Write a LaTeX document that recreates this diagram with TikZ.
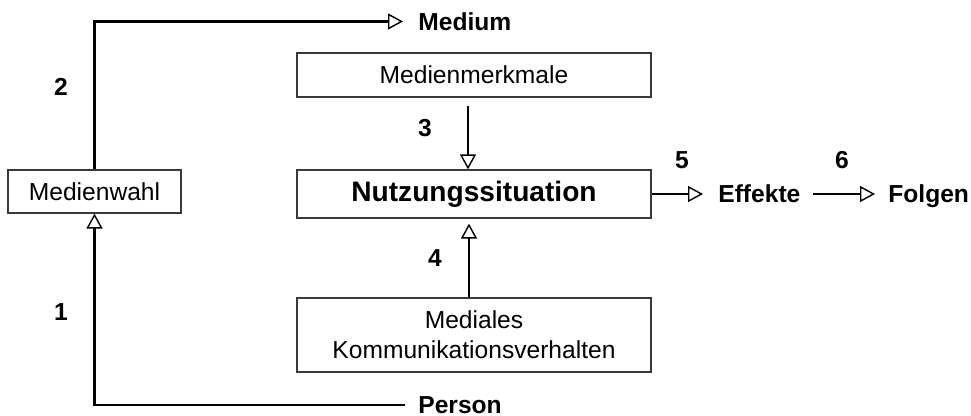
\documentclass[tikz,border=0pt]{standalone}
\usepackage{fontspec}
\setmainfont{Liberation Sans}
\usetikzlibrary{arrows.meta,positioning}
\definecolor{Frame}{HTML}{3A3A3A}

\begin{document}
\begin{tikzpicture}[>={Triangle[open,length=0.3cm,width=0.32cm,line width=0.8pt]},
    box/.style={draw=Frame, line width=0.7pt, minimum width=7.08cm, align=center, font=\fontsize{14}{17}\selectfont},
    lbl/.style={font=\fontsize{14}{17}\selectfont\bfseries, inner sep=0pt, text depth=0pt},
    flow/.style={->, line width=1.2pt}]
    \useasboundingbox (0,0) rectangle (19.42,8.32);
    % boxes
    \node[box, minimum width=3.46cm, minimum height=0.86cm] (wahl) at (1.89,4.49) {Medienwahl};
    \node[box, minimum height=0.88cm] (merk) at (9.48,6.82) {Medienmerkmale};
    \node[box, minimum height=0.96cm, font=\fontsize{16}{19}\selectfont\bfseries] (nutz) at (9.48,4.44) {Nutzungssituation};
    \node[box, minimum height=1.48cm] (medial) at (9.48,1.62) {Mediales\\Kommunikationsverhalten};
    % end labels
    \node[lbl, anchor=west] (medium) at (8.36,7.89) {Medium};
    \node[lbl, anchor=west] (person) at (8.36,0.22) {Person};
    \node[lbl, anchor=west] (eff) at (14.36,4.44) {Effekte};
    \node[lbl, anchor=west] (folg) at (17.76,4.44) {Folgen};
    % numbers
    \node[lbl] (n1) at (1.22,2.08) {1};
    \node[lbl] (n2) at (1.22,6.58) {2};
    \node[lbl] (n3) at (8.50,5.76) {3};
    \node[lbl] (n4) at (8.70,3.16) {4};
    \node[lbl] (n5) at (13.64,5.12) {5};
    \node[lbl] (n6) at (16.84,5.12) {6};
    % arrows
    \draw[flow, shorten >=0.3cm] (wahl.north) |- (medium.west);
    \draw[flow, shorten <=0.26cm] (person.west) -| (wahl.south);
    \draw[flow, shorten <=0.16cm] ([xshift=-0.12cm]merk.south) -- ([xshift=-0.12cm]nutz.north);
    \draw[flow, shorten >=0.1cm] ([xshift=-0.1cm]medial.north) -- ([xshift=-0.1cm]nutz.south);
    \draw[flow, shorten >=0.3cm] (nutz.east) -- (eff.west);
    \draw[flow, shorten <=0.24cm, shorten >=0.26cm] (eff.east) -- (folg.west);
\end{tikzpicture}
\end{document}
